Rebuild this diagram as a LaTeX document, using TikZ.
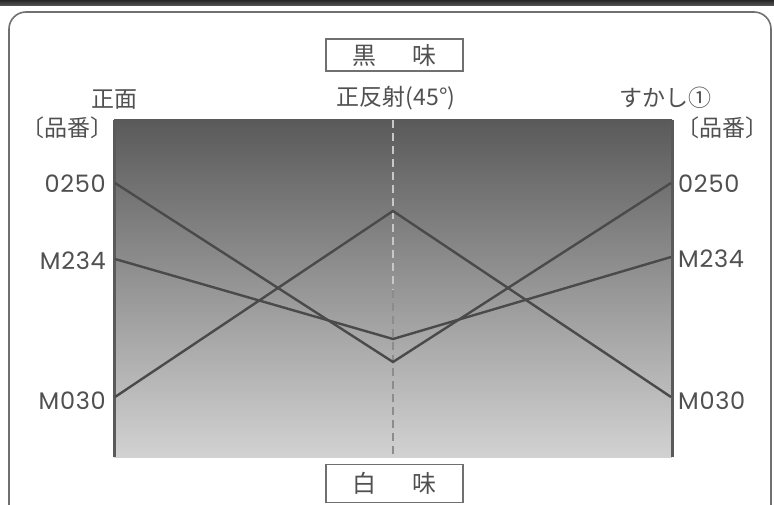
\documentclass[tikz,border=0pt]{standalone}
\usepackage{fontspec}
\setmainfont{Noto Sans CJK JP}
\newfontfamily\numfont[LetterSpace=3]{Poppins}
\definecolor{txt}{HTML}{505050}
\definecolor{ln}{HTML}{4A4A4A}
\definecolor{axis}{HTML}{5A5A5A}
\definecolor{frm}{HTML}{707070}
\begin{document}
\begin{tikzpicture}[x=1pt,y=-1pt,
  lbl/.style={text=txt,font=\fontsize{23}{23}\selectfont,inner sep=0pt},
  num/.style={text=txt,font=\numfont\fontsize{24}{24}\selectfont,inner sep=0pt},
  boxlbl/.style={draw=frm,line width=1.6pt,text=txt,font=\fontsize{24}{24}\selectfont,inner sep=0pt,minimum width=137pt},
  series/.style={draw=ln,line width=2.4pt,line join=miter},
  axisline/.style={draw=axis,line width=3pt}]
\useasboundingbox (0,0) rectangle (774,505);
% top dark bar
\shade[top color=black!85,bottom color=black!65] (0,0) rectangle (774,6);
% frame
\draw[frm,line width=1.6pt,rounded corners=17pt] (9,530) -- (9,12) -- (771,12) -- (771,530);
% chart area
\shade[top color={rgb,255:red,90;green,90;blue,90},bottom color={rgb,255:red,210;green,210;blue,210}] (114,120) rectangle (672,457);
\coordinate (dtop) at (393,120);
\coordinate (dmid) at (393,290);
\coordinate (dbot) at (393,457);
\draw[black!22,line width=1.6pt,dash pattern=on 8pt off 5pt] (dtop) -- (dmid);
\draw[black!45,line width=1.6pt,dash pattern=on 8pt off 5pt] (dmid) -- (dbot);
\draw[axisline] (114,120) -- (114,457);
\draw[axisline] (672,120) -- (672,457);
% coordinates
\coordinate (L1) at (115,183);
\coordinate (L2) at (115,259);
\coordinate (L3) at (115,397);
\coordinate (C1) at (393,362);
\coordinate (C2) at (393,339);
\coordinate (C3) at (393,211);
\coordinate (R1) at (671,183);
\coordinate (R2) at (671,257);
\coordinate (R3) at (671,397);
\draw[series] (L1) -- (C1) -- (R1);
\draw[series] (L2) -- (C2) -- (R2);
\draw[series] (L3) -- (C3) -- (R3);
% labels
\node[num,anchor=east] (nl1) at (106,184) {0250};
\node[num,anchor=east] (nl2) at (106,261) {M234};
\node[num,anchor=east] (nl3) at (106,401) {M030};
\node[num,anchor=west] (nr1) at (678,184) {0250};
\node[num,anchor=west] (nr2) at (678,259) {M234};
\node[num,anchor=west] (nr3) at (678,401) {M030};
\node[lbl] (front) at (114,100) {正面};
\node[lbl,anchor=east] (hl) at (114,128) {〔品番〕};
\node[lbl] (spec) at (396,98) {正反射(45°)};
\node[lbl,anchor=east] (trans) at (712,98) {すかし①};
\node[lbl,anchor=west] (hr) at (676,128) {〔品番〕};
\node[boxlbl,minimum height=32pt] (black) at (394.5,55) {黒\hspace{1.5em}味};
\node[boxlbl,minimum height=38pt] (white) at (394.5,483.5) {白\hspace{1.5em}味};
\end{tikzpicture}
\end{document}
